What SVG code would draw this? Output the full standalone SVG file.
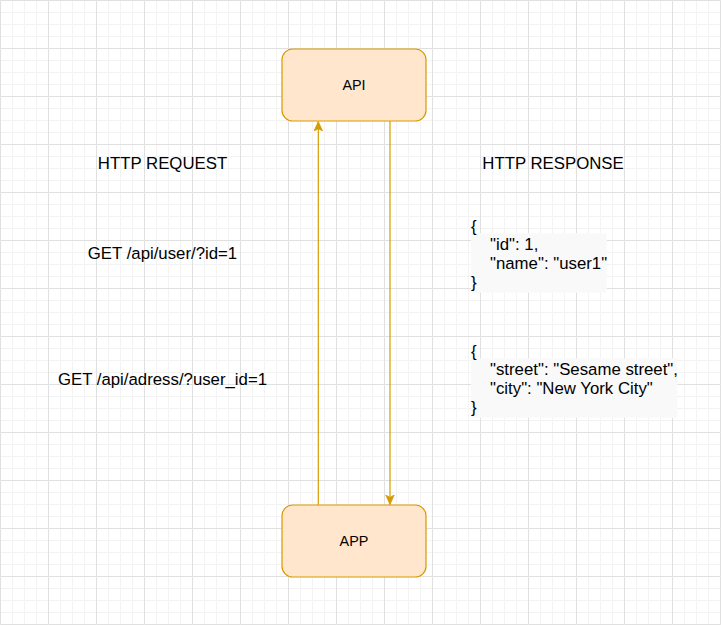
<svg xmlns="http://www.w3.org/2000/svg" width="721" height="625" viewBox="0 0 721 625">
  <style>
    .node { fill: #ffe6cc; stroke: #d79b00; stroke-width: 1.2; }
    .lbl { font-family: "Liberation Sans", Arial, sans-serif; fill: #000000; }
    .big { font-size: 16.8px; }
    .small { font-size: 14.4px; }
    .edge { fill: none; stroke: #d79b00; stroke-width: 1.2; }
    .hl { fill: #f9f9f9; }
  </style>
  <defs>
    <pattern id="minor" width="12" height="12" patternUnits="userSpaceOnUse">
      <path d="M 12 0.5 L 0.5 0.5 0.5 12" fill="none" stroke="#f3f3f3" stroke-width="1"/>
    </pattern>
    <pattern id="major" width="48" height="48" patternUnits="userSpaceOnUse">
      <rect width="48" height="48" fill="url(#minor)"/>
      <path d="M 48 0.5 L 0.5 0.5 0.5 48" fill="none" stroke="#e0e0e0" stroke-width="1"/>
    </pattern>
    <marker id="arrow" viewBox="0 0 10 10" refX="10" refY="5" markerUnits="userSpaceOnUse" markerWidth="10" markerHeight="9.5" orient="auto">
      <path d="M 0 0.5 L 10 5 L 0 9.5 L 2.5 5 Z" fill="#d79b00" stroke="#d79b00" stroke-width="0.8"/>
    </marker>
  </defs>
  <rect width="721" height="625" fill="#ffffff"/>
  <rect width="721" height="625" fill="url(#major)"/>

  <g id="connectors">
    <path class="edge" d="M 318.3 505 L 318.3 121.5" marker-end="url(#arrow)"/>
    <path class="edge" d="M 390 121 L 390 504.5" marker-end="url(#arrow)"/>
  </g>

  <g id="node-api">
    <rect class="node" x="282" y="49" width="144" height="72" rx="10.8" ry="10.8"/>
    <text class="lbl small" x="354" y="89.5" text-anchor="middle">API</text>
  </g>

  <g id="node-app">
    <rect class="node" x="282" y="505" width="144" height="72" rx="10.8" ry="10.8"/>
    <text class="lbl small" x="354" y="545.5" text-anchor="middle">APP</text>
  </g>

  <g id="label-http-request">
    <text class="lbl big" x="162.5" y="169" text-anchor="middle">HTTP REQUEST</text>
  </g>
  <g id="label-get-user">
    <text class="lbl big" x="162.5" y="259" text-anchor="middle">GET /api/user/?id=1</text>
  </g>
  <g id="label-get-address">
    <text class="lbl big" x="162.5" y="385" text-anchor="middle">GET /api/adress/?user_id=1</text>
  </g>

  <g id="label-http-response">
    <text class="lbl big" x="553" y="169" text-anchor="middle">HTTP RESPONSE</text>
  </g>

  <g id="json-user">
    <rect class="hl" x="471" y="233.3" width="135.7" height="59.4"/>
    <text class="lbl big" x="471" y="231.5">{</text>
    <text class="lbl big" x="490" y="250.2">"id": 1,</text>
    <text class="lbl big" x="490" y="268.9">"name": "user1"</text>
    <text class="lbl big" x="471" y="287.6">}</text>
  </g>

  <g id="json-address">
    <rect class="hl" x="471" y="358.3" width="206.3" height="59.4"/>
    <text class="lbl big" x="471" y="356.5">{</text>
    <text class="lbl big" x="490" y="375.2">"street": "Sesame street",</text>
    <text class="lbl big" x="490" y="393.9">"city": "New York City"</text>
    <text class="lbl big" x="471" y="412.6">}</text>
  </g>
</svg>
